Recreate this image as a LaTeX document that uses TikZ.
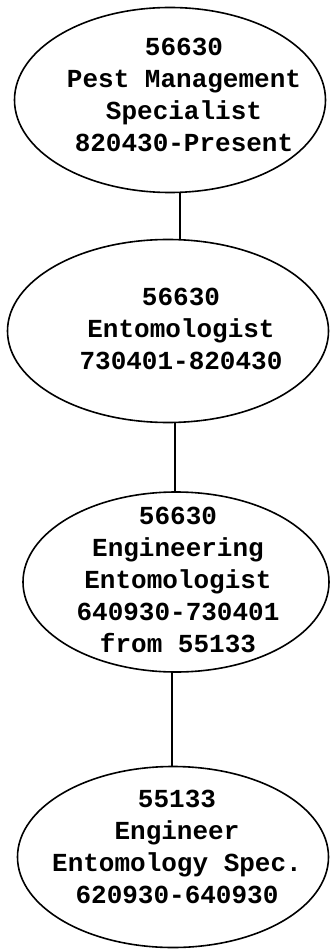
\documentclass[tikz,border=0pt]{standalone}
\usepackage{fontspec}
\setmonofont{Liberation Mono}
\usetikzlibrary{shapes.geometric}
\tikzset{
  ell/.style={ellipse, draw, line width=1.6pt, inner sep=0pt},
  lbl/.style={font=\ttfamily\bfseries\fontsize{26}{32}\selectfont, align=center, inner sep=0pt},
  conn/.style={line width=1.6pt}
}
\begin{document}
\begin{tikzpicture}[x=1pt,y=-1pt]
\useasboundingbox (0,0) rectangle (329,949);
\node[ell, minimum width=311pt, minimum height=185pt] (e1) at (170,100) {};
\node[lbl] (t1) at (184,95) {56630\\Pest Management\\Specialist\\820430-Present};
\node[ell, minimum width=321pt, minimum height=183pt] (e2) at (168,331) {};
\node[lbl] (t2) at (181,329) {56630\\Entomologist\\730401-820430};
\node[ell, minimum width=306pt, minimum height=180pt] (e3) at (176,582) {};
\node[lbl] (t3) at (178,580) {56630\\Engineering\\Entomologist\\640930-730401\\from 55133};
\node[ell, minimum width=311pt, minimum height=181pt] (e4) at (173,857) {};
\node[lbl] (t4) at (177,847) {55133\\Engineer\\Entomology Spec.\\620930-640930};
\coordinate (l1) at (180,0);
\coordinate (l2) at (175,0);
\coordinate (l3) at (172,0);
\draw[conn] (e1.south -| l1) -- (e2.north -| l1);
\draw[conn] (e2.south -| l2) -- (e3.north -| l2);
\draw[conn] (e3.south -| l3) -- (e4.north -| l3);
\end{tikzpicture}
\end{document}
